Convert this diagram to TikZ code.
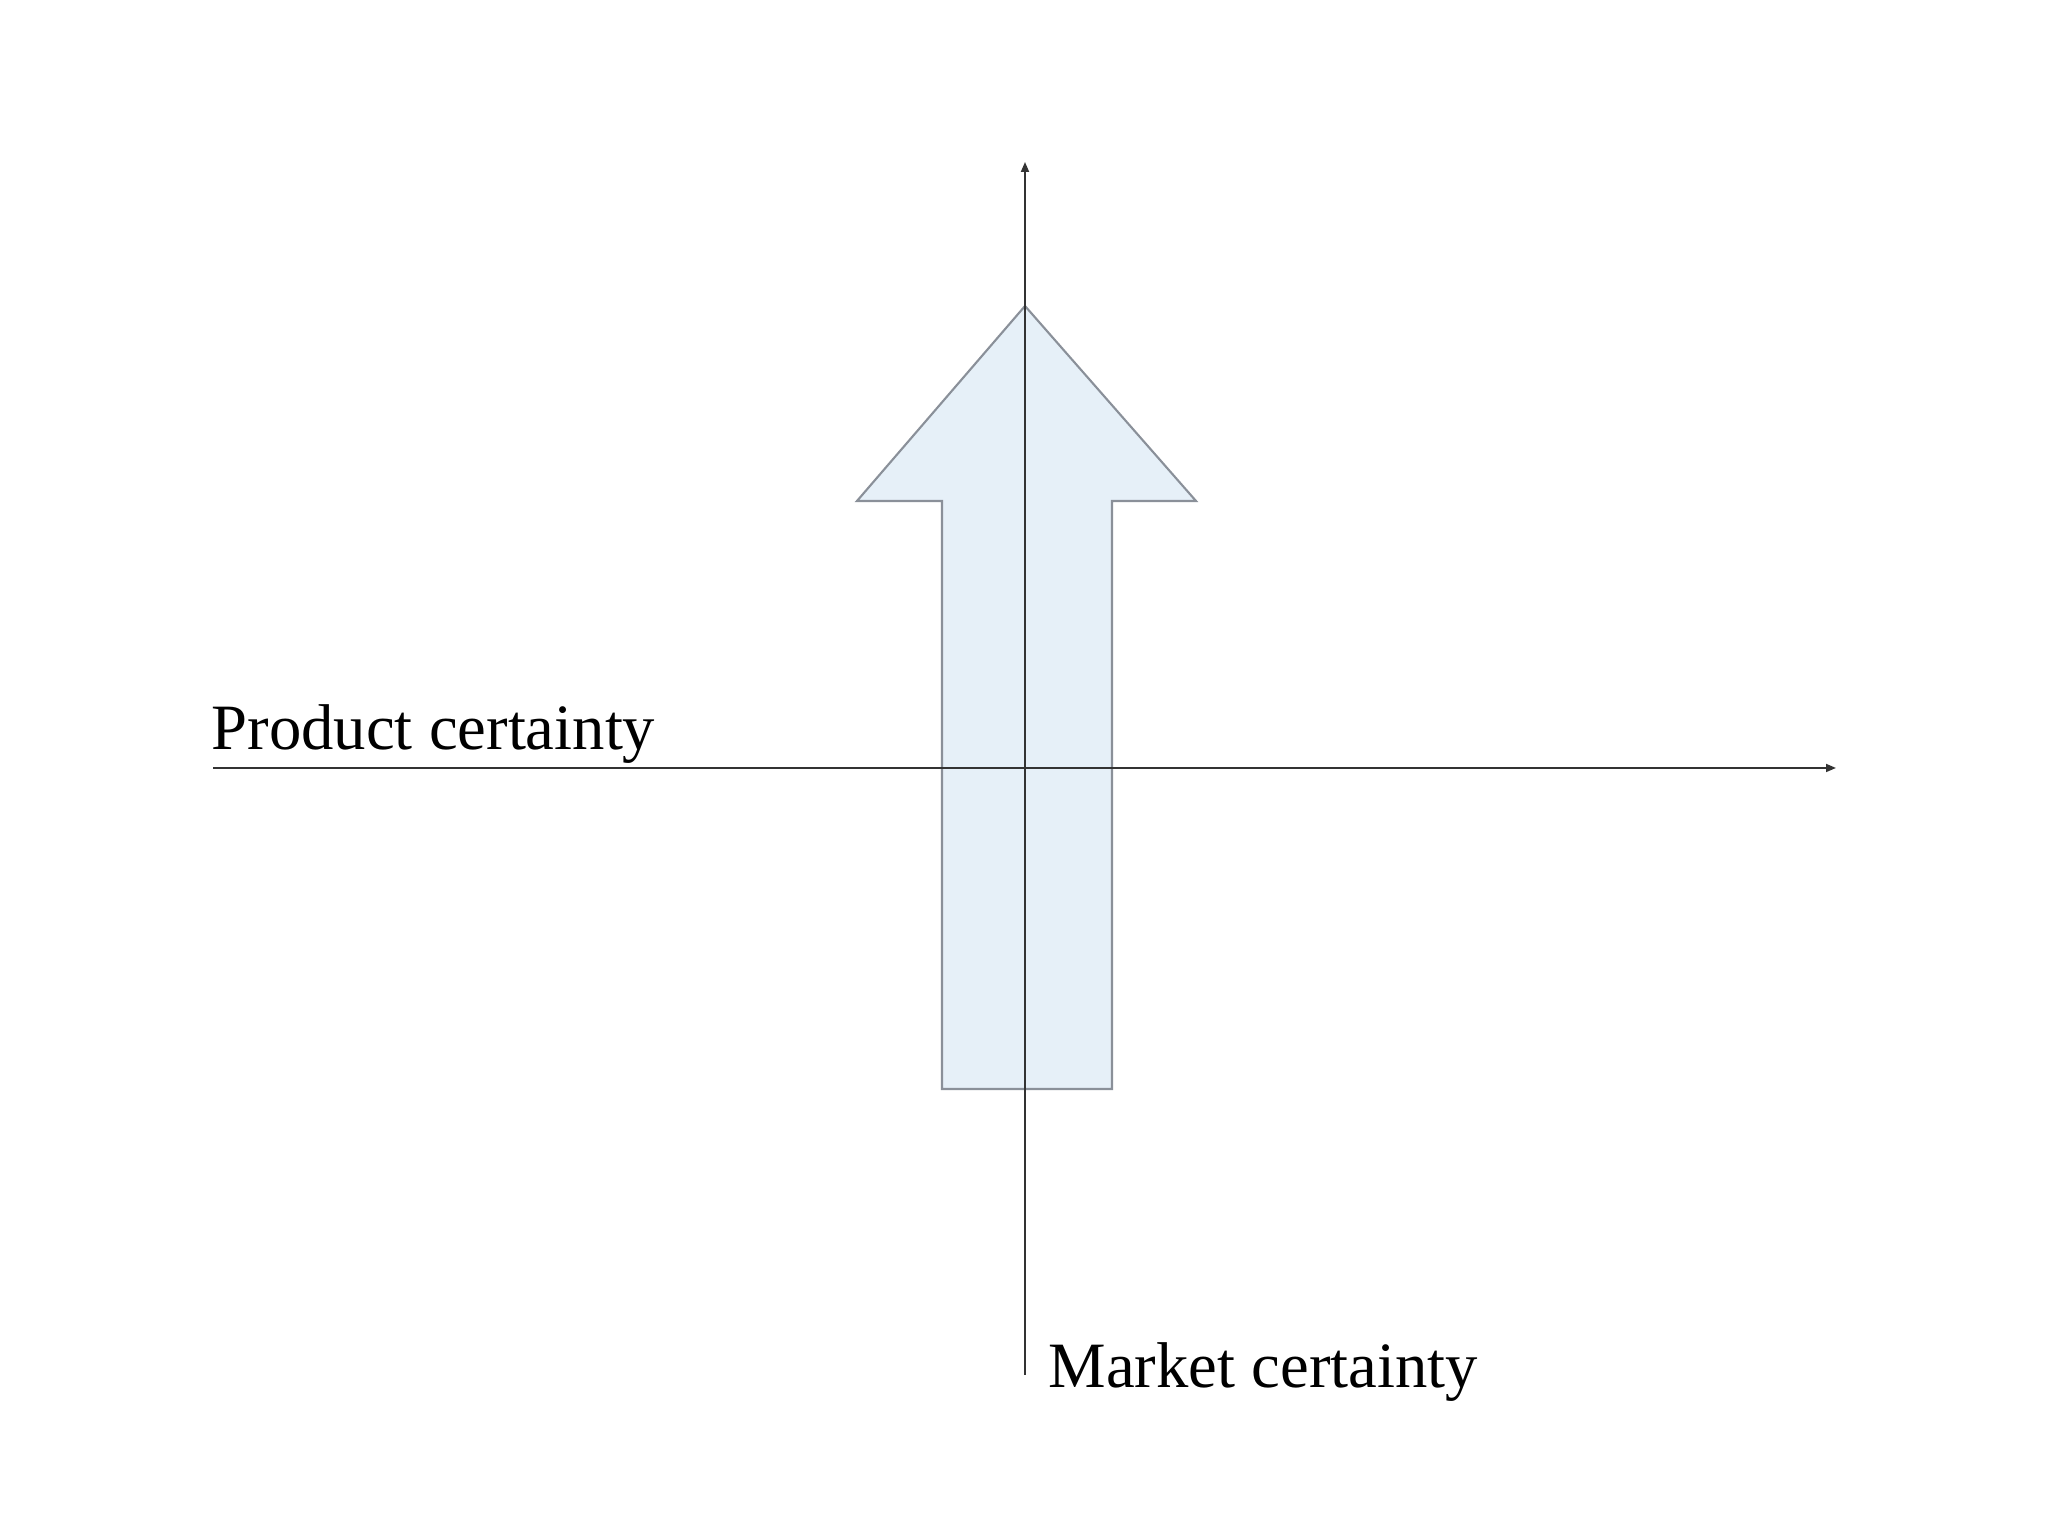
\documentclass[tikz,border=0pt]{standalone}
\usepackage{fontspec}
\setmainfont{Liberation Serif}
\usepackage{tikz}
\usetikzlibrary{arrows.meta,positioning}
\definecolor{arrowfill}{HTML}{E6F0F8}
\definecolor{arrowline}{HTML}{8A9099}
\definecolor{axisline}{HTML}{333333}
\tikzstyle{axis}=[draw=axisline,line width=0.5pt,-{Triangle[length=1mm,width=0.8mm]}]
\tikzstyle{axislabel}=[inner sep=0pt,anchor=base west,font=\fontsize{18.4}{22}\selectfont]

\begin{document}
\begin{tikzpicture}
\useasboundingbox (0,0) rectangle (20.48,15.36);
% big arrow
\draw[fill=arrowfill,draw=arrowline,line width=0.6pt]
  (9.42,4.47) -- (9.42,10.35) -- (8.57,10.35) -- (10.25,12.30)
  -- (11.96,10.35) -- (11.12,10.35) -- (11.12,4.47) -- cycle;
% axes
\coordinate (xs) at (2.13,7.68);
\coordinate (xe) at (18.36,7.68);
\coordinate (ys) at (10.25,1.61);
\coordinate (ye) at (10.25,13.74);
\draw[axis] (xs) -- (xe);
\draw[axis] (ys) -- (ye);
\node [axislabel] (prod) at (2.11,7.86) {Product certainty};
\node [axislabel] (mark) at (10.48,1.48) {Market certainty};
\end{tikzpicture}
\end{document}
